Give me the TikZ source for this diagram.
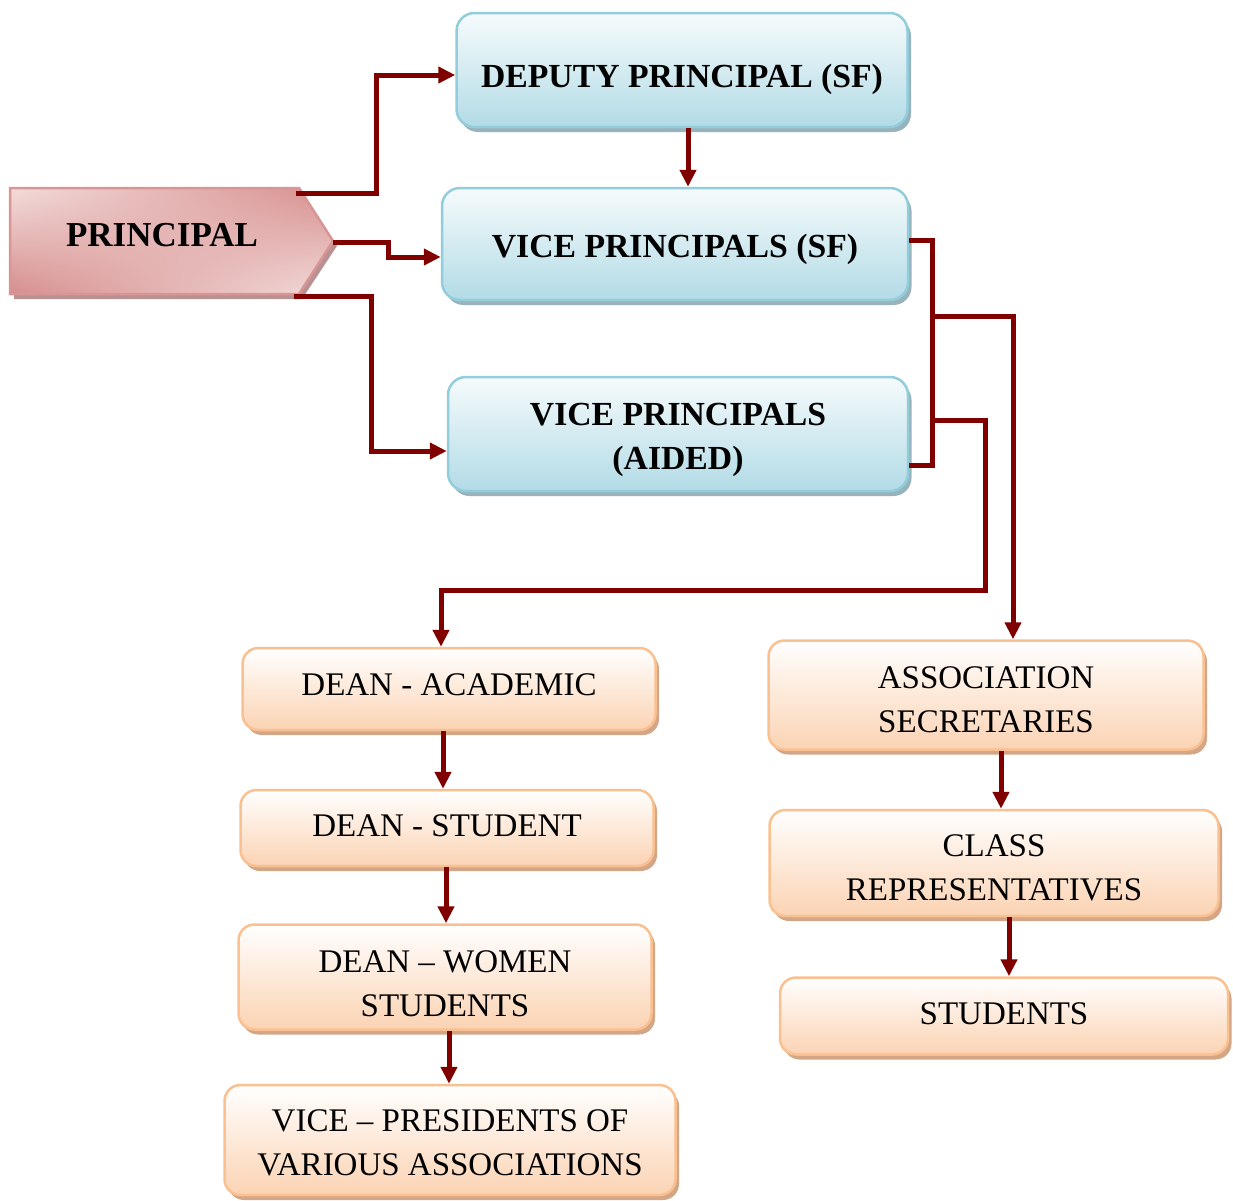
\documentclass[tikz,border=0pt]{standalone}
\usepackage{fontspec}
\setmainfont{Liberation Serif}
\usetikzlibrary{arrows.meta,shadows,shadings,calc}
\definecolor{arr}{HTML}{800000}
\definecolor{blueline}{HTML}{92CDDC}
\definecolor{bluetop}{HTML}{F6FBFC}
\definecolor{bluebot}{HTML}{B2DBE6}
\definecolor{blueshadow}{HTML}{98B3BC}
\definecolor{orline}{HTML}{FAC090}
\definecolor{ortop}{HTML}{FFFFFF}
\definecolor{orbot}{HTML}{FBD3B3}
\definecolor{orshadow}{HTML}{D2A686}
\definecolor{pinkline}{HTML}{D99594}
\definecolor{pinklight}{HTML}{F2DCDB}
\definecolor{pinkdark}{HTML}{D68E8D}
\definecolor{pinkshadow}{HTML}{B89292}
\begin{document}
\begin{tikzpicture}[x=1pt,y=-1pt,
  bluebox/.style={rectangle, rounded corners=18pt, draw=blueline, line width=2.5pt,
    top color=bluetop, bottom color=bluebot,
    drop shadow={fill=blueshadow, opacity=1, shadow xshift=3.5pt, shadow yshift=-5pt},
    inner sep=0pt},
  orbox/.style={rectangle, rounded corners=16pt, draw=orline, line width=2.5pt,
    top color=ortop, bottom color=orbot,
    drop shadow={fill=orshadow, opacity=1, shadow xshift=3.5pt, shadow yshift=-5pt},
    inner sep=0pt},
  boldlbl/.style={font=\fontsize{33.7}{44}\selectfont\bfseries, align=center, inner sep=0pt},
  lbl/.style={font=\fontsize{33}{44}\selectfont, align=center, inner sep=0pt},
  conn/.style={draw=arr, line width=5pt, line join=miter},
  arrowconn/.style={conn, -{Triangle[width=16pt,length=17pt]}},
]
\useasboundingbox (0,0) rectangle (1233,1200);

% Principal arrow shape
\path[fill=pinkshadow] (14,192) -- (302,192) -- (337,246) -- (302,299) -- (14,299) -- cycle;
\path[draw=pinkline, line width=2.5pt, upper left=pinklight, upper right=pinkdark,
      lower left=pinkdark, lower right=pinklight]
  (10,188) -- (299,188) -- (333,241) -- (299,294) -- (10,294) -- cycle;
\node[font=\fontsize{35}{44}\selectfont\bfseries, inner sep=0pt] (P) at (162,235) {PRINCIPAL};
\coordinate (P1) at (296,193);
\coordinate (P2) at (333,242);
\coordinate (P3) at (294,296);

% Blue boxes
\node[bluebox, minimum width=451pt, minimum height=114pt] (DEP) at (682,70) {};
\node[bluebox, minimum width=466pt, minimum height=112pt] (VSF) at (675,244) {};
\node[bluebox, minimum width=460pt, minimum height=114pt] (AID) at (678,434) {};
\node[boldlbl] (DEPt) at ([yshift=-9pt]DEP.center) {DEPUTY PRINCIPAL (SF)};
\node[boldlbl] (VSFt) at ([yshift=-5pt]VSF.center) {VICE PRINCIPALS (SF)};
\node[boldlbl] (AIDt) at ([yshift=-6pt]AID.center) {VICE PRINCIPALS\\(AIDED)};

% Orange boxes
\node[orbox, minimum width=413pt, minimum height=82pt] (DA) at (449,689) {};
\node[orbox, minimum width=413pt, minimum height=76pt] (DS) at (447,828) {};
\node[orbox, minimum width=413pt, minimum height=105pt] (DW) at (445,977) {};
\node[orbox, minimum width=451pt, minimum height=110pt] (VP) at (450,1140) {};
\node[orbox, minimum width=435pt, minimum height=109pt] (AS) at (986,695) {};
\node[orbox, minimum width=449pt, minimum height=106pt] (CR) at (994,863) {};
\node[orbox, minimum width=448pt, minimum height=77pt] (ST) at (1004,1016) {};
\node[lbl] (DAt) at ([yshift=4pt]DA.center) {DEAN - ACADEMIC};
\node[lbl] (DSt) at ([yshift=2pt]DS.center) {DEAN - STUDENT};
\node[lbl] (DWt) at ([yshift=-7pt]DW.center) {DEAN -- WOMEN\\STUDENTS};
\node[lbl] (VPt) at ([yshift=-3pt]VP.center) {VICE -- PRESIDENTS OF\\VARIOUS ASSOCIATIONS};
\node[lbl] (ASt) at ([yshift=-5pt]AS.center) {ASSOCIATION\\SECRETARIES};
\node[lbl] (CRt) at ([yshift=-5pt]CR.center) {CLASS\\REPRESENTATIVES};
\node[lbl] (STt) at ([yshift=2pt]ST.center) {STUDENTS};

% Connectors from principal
\draw[arrowconn] (P1) -- (376,193) -- (376,75) -- ([yshift=-5pt]DEP.west);
\draw[arrowconn] (P2) -- (388,242) -- (388,257) -- ([yshift=-13pt]VSF.west);
\draw[arrowconn] (P3) -- (371,296) -- (371,451) -- ([yshift=-17pt]AID.west);
\draw[arrowconn] ([xshift=6pt]DEP.south) -- ([xshift=6pt]DEP.south |- VSF.north);

% Bracket from vice principals
\coordinate (B1) at (932,316);
\coordinate (B2) at (932,420);
\draw[conn] ([yshift=4pt]VSF.east) -- (932,240) -- (932,465) -- ([yshift=-31pt]AID.east);
\draw[arrowconn] (B1) -- (1013,316) -- ([xshift=27pt]AS.north);
\draw[arrowconn] (B2) -- (985,420) -- (985,590) -- (441,590) -- ([xshift=-8pt]DA.north);

% Vertical chains
\draw[arrowconn] ([xshift=-6pt]DA.south) -- ([xshift=-6pt]DA.south |- DS.north);
\draw[arrowconn] ([xshift=-1pt]DS.south) -- ([xshift=-1pt]DS.south |- DW.north);
\draw[arrowconn] ([xshift=4pt]DW.south) -- ([xshift=4pt]DW.south |- VP.north);
\draw[arrowconn] ([xshift=15pt]AS.south) -- ([xshift=15pt]AS.south |- CR.north);
\draw[arrowconn] ([xshift=15pt]CR.south) -- ([xshift=15pt]CR.south |- ST.north);
\end{tikzpicture}
\end{document}
